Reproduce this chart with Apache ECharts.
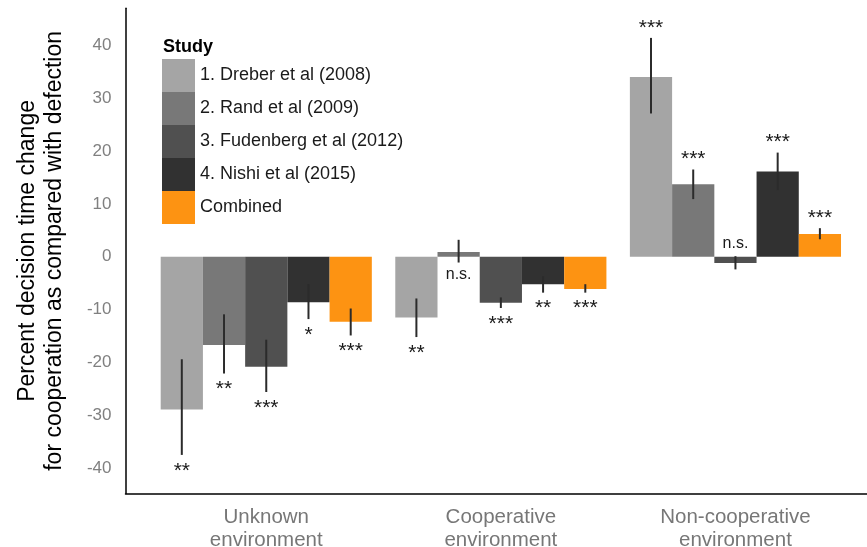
<!DOCTYPE html>
<html>
<head>
<meta charset="utf-8">
<script src="https://cdn.jsdelivr.net/npm/echarts@6/dist/echarts.min.js"></script>
<style>
html,body{margin:0;padding:0;background:#fff;}
#chart{width:867px;height:547px;}
</style>
</head>
<body>
<div id="chart"></div>
<script>
// ---- data ----
const categories = ['Unknown\nenvironment', 'Cooperative\nenvironment', 'Non-cooperative\nenvironment'];
const studies = ['1. Dreber et al (2008)', '2. Rand et al (2009)', '3. Fudenberg et al (2012)', '4. Nishi et al (2015)', 'Combined'];
const yTicks = [-40, -30, -20, -10, 0, 10, 20, 30, 40];

const dreberMean = [-28.9, -11.5, 34.0];
const dreberLow  = [-37.5, -15.2, 27.1];
const dreberHigh = [-19.4, -7.9, 41.4];
const dreberSig  = ['**', '**', '***'];

const randMean = [-16.7, 0.9, 13.7];
const randLow  = [-22.1, -1.1, 10.9];
const randHigh = [-10.9, 3.2, 16.5];
const randSig  = ['**', 'n.s.', '***'];

const fudenbergMean = [-20.8, -8.7, -1.2];
const fudenbergLow  = [-25.6, -9.7, -2.4];
const fudenbergHigh = [-15.7, -7.7, 0.1];
const fudenbergSig  = ['***', '***', 'n.s.'];

const nishiMean = [-8.6, -5.2, 16.1];
const nishiLow  = [-11.8, -6.8, 12.6];
const nishiHigh = [-5.2, -3.7, 19.7];
const nishiSig  = ['*', '**', '***'];

const combinedMean = [-12.3, -6.1, 4.3];
const combinedLow  = [-14.9, -6.8, 3.3];
const combinedHigh = [-9.8, -5.2, 5.4];
const combinedSig  = ['***', '***', '***'];

const studyMeans = [dreberMean, randMean, fudenbergMean, nishiMean, combinedMean];
const studyLows  = [dreberLow, randLow, fudenbergLow, nishiLow, combinedLow];
const studyHighs = [dreberHigh, randHigh, fudenbergHigh, nishiHigh, combinedHigh];
const studySigs  = [dreberSig, randSig, fudenbergSig, nishiSig, combinedSig];

// ---- styles ----
const FONT = 'Liberation Sans, Arial, sans-serif';
const colors = ['#a5a5a5', '#787878', '#505050', '#313131', '#fd9312'];
const groupWidth = 0.9;
const nStudies = studies.length;

function renderItem(params, api) {
  const si = params.seriesIndex;
  const g = api.value(0);
  const v = api.value(1);
  const lo = api.value(2);
  const hi = api.value(3);
  const di = params.dataIndex;
  const sig = studySigs[si][di];
  const slot = groupWidth / nStudies;
  const left = g - groupWidth / 2 + si * slot;
  const p0 = api.coord([left, 0]);
  const p1 = api.coord([left + slot, v]);
  const pc = api.coord([left + slot / 2, lo]);
  const ph = api.coord([left + slot / 2, hi]);
  const above = combinedMean[di] > 0;
  const isNS = sig === 'n.s.';
  let ty;
  if (above) ty = ph[1] - (isNS ? 13 : 10);
  else ty = pc[1] + (isNS ? 12 : 16);
  return {
    type: 'group',
    children: [
      {
        type: 'rect',
        shape: { x: p0[0], y: Math.min(p0[1], p1[1]), width: p1[0] - p0[0], height: Math.abs(p1[1] - p0[1]) },
        style: { fill: api.visual('color') }
      },
      {
        type: 'line',
        shape: { x1: pc[0], y1: pc[1], x2: ph[0], y2: ph[1] },
        style: { stroke: '#2b2b2b', lineWidth: 2 }
      },
      {
        type: 'text',
        style: {
          x: pc[0], y: ty, text: sig,
          align: 'center', verticalAlign: 'middle',
          fontFamily: FONT,
          fontSize: isNS ? 16 : 21, fill: '#1a1a1a'
        }
      }
    ]
  };
}

const series = studies.map((name, si) => ({
  name: name,
  type: 'custom',
  renderItem: renderItem,
  itemStyle: { color: colors[si] },
  encode: { x: 0, y: 1 },
  data: categories.map((c, gi) => [gi + 1, studyMeans[si][gi], studyLows[si][gi], studyHighs[si][gi]]),
  silent: true,
  animation: false
}));

const chart = echarts.init(document.getElementById('chart'));
chart.setOption({
  animation: false,
  textStyle: { fontFamily: FONT },
  title: {
    text: 'Study',
    left: 158, top: 33,
    textStyle: { fontSize: 18, fontWeight: 'bold', color: '#000', fontFamily: FONT }
  },
  legend: {
    data: studies,
    orient: 'vertical',
    left: 162, top: 59,
    padding: 0,
    itemWidth: 33, itemHeight: 33, itemGap: 0,
    icon: 'rect',
    selectedMode: false,
    textStyle: { fontSize: 18, color: '#1a1a1a', fontFamily: FONT }
  },
  grid: { left: 125.5, top: 8.3, width: 750.7, height: 485.2, containLabel: false, outerBoundsMode: 'none' },
  xAxis: {
    type: 'value',
    min: 0.4, max: 3.6,
    splitLine: { show: false },
    axisTick: { show: false },
    axisLine: { show: true, onZero: false, lineStyle: { color: '#000', width: 1.5 } },
    axisLabel: {
      customValues: [1, 2, 3],
      formatter: v => categories[Math.round(v) - 1] || '',
      fontSize: 20.5, color: '#777', lineHeight: 23, margin: 12,
      fontFamily: FONT
    }
  },
  yAxis: {
    type: 'value',
    min: -44.8, max: 47,
    name: 'Percent decision time change\nfor cooperation as compared with defection',
    nameLocation: 'middle', nameRotate: 90, nameGap: 57,
    nameTextStyle: { fontSize: 23, lineHeight: 27, color: '#000', fontFamily: FONT },
    splitLine: { show: false },
    axisTick: { show: false },
    axisLine: { show: true, onZero: false, lineStyle: { color: '#000', width: 1.5 } },
    axisLabel: {
      customValues: yTicks,
      fontSize: 17, color: '#808080', margin: 14,
      fontFamily: FONT
    }
  },
  series: series
});
</script>
</body>
</html>
